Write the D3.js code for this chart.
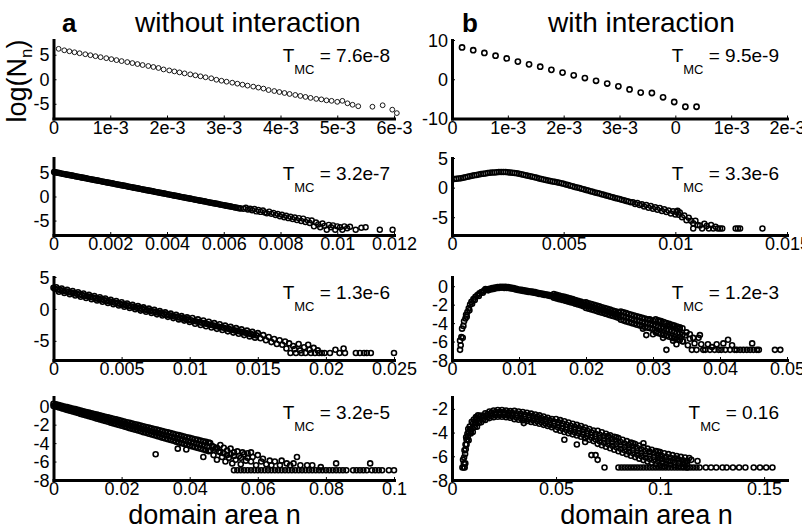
<!DOCTYPE html>
<html><head><meta charset="utf-8">
<script src="https://cdn.jsdelivr.net/npm/d3@7"></script>
<style>
body{margin:0;background:#fff}
svg text{font-family:"Liberation Sans",Arial,Helvetica,sans-serif;fill:#000;white-space:pre}
</style>
</head><body>
<svg id="c" width="802" height="527"></svg>
<script>
// x values of all point arrays are given in units of 1e-3 (domain area n)
const X_UNIT = 1e-3;

const titles = ["without interaction","with interaction"];
const panelLetters = ["a","b"];
const xAxisTitle = "domain area n";
const tmcValues = ["7.6e-8","9.5e-9","3.2e-7","3.3e-6","1.3e-6","1.2e-3","3.2e-5","0.16"];

// tick values / labels
const xTicksA1 = [0,1e-3,2e-3,3e-3,4e-3,5e-3,6e-3];
const xLabelsA1 = ["0","1e-3","2e-3","3e-3","4e-3","5e-3","6e-3"];
const xTicksA2 = [0,1e-3,2e-3,3e-3,4e-3,5e-3,6e-3];
const xLabelsA2 = ["0","1e-3","2e-3","3e-3","0","1e-3","2e-3"];
const xTicksB1 = [0,0.002,0.004,0.006,0.008,0.01,0.012];
const xLabelsB1 = ["0","0.002","0.004","0.006","0.008","0.01","0.012"];
const xTicksB2 = [0,0.005,0.01,0.015];
const xLabelsB2 = ["0","0.005","0.01","0.015"];
const xTicksB3 = [0,0.005,0.01,0.015,0.02,0.025];
const xLabelsB3 = ["0","0.005","0.01","0.015","0.02","0.025"];
const xTicksB4 = [0,0.01,0.02,0.03,0.04,0.05];
const xLabelsB4 = ["0","0.01","0.02","0.03","0.04","0.05"];
const xTicksB5 = [0,0.02,0.04,0.06,0.08,0.1];
const xLabelsB5 = ["0","0.02","0.04","0.06","0.08","0.1"];
const xTicksB6 = [0,0.05,0.1,0.15];
const xLabelsB6 = ["0","0.05","0.1","0.15"];
const yTicks5 = [-5,0,5];
const yTicks10 = [-10,0,10];
const yTicks8a = [-8,-6,-4,-2,0];
const yTicks8b = [-8,-6,-4,-2];

// ---- data: [n (x1e-3), log(Nn)] ----
const dataA1 = [[0.09,6.2],[0.19,5.9],[0.28,5.7],[0.37,5.5],[0.46,5.3],[0.56,5.1],[0.65,4.9],[0.74,4.7],[0.83,4.5],[0.93,4.3],
[1.02,4.1],[1.11,3.9],[1.20,3.7],[1.30,3.5],[1.39,3.3],[1.48,3.1],[1.57,2.9],[1.67,2.7],[1.76,2.5],[1.85,2.3],
[1.94,2.0],[2.04,1.8],[2.13,1.6],[2.22,1.4],[2.31,1.2],[2.41,1.0],[2.50,0.8],[2.59,0.6],[2.68,0.4],[2.78,0.2],
[2.87,-0.1],[2.96,-0.3],[3.05,-0.5],[3.15,-0.7],[3.24,-0.9],[3.33,-1.1],[3.42,-1.3],[3.52,-1.5],[3.61,-1.7],[3.70,-1.9],
[3.79,-2.2],[3.89,-2.4],[3.98,-2.6],[4.07,-2.8],[4.16,-3.0],[4.26,-3.2],[4.35,-3.4],[4.44,-3.6],[4.53,-3.8],[4.63,-4.0],
[4.72,-4.1],[4.81,-4.3],[4.90,-4.4],[5.00,-4.6],[5.09,-4.4],[5.18,-4.9],[5.27,-5.2],[5.37,-5.5],
[5.62,-5.6],[5.80,-5.3],[5.97,-6.2],[6.05,-6.9]];

const dataA2 = [[0.18,8.1],[0.38,7.4],[0.58,6.7],[0.78,6.0],[0.98,5.3],[1.18,4.5],[1.38,3.8],[1.58,3.2],[1.78,2.4],[1.98,1.7],
[2.18,1.0],[2.38,0.3],[2.58,-0.4],[2.78,-1.1],[2.98,-1.8],[3.18,-2.6],[3.38,-3.4],[3.58,-3.5],[3.78,-4.6],[3.98,-5.8],[4.18,-7.0],[4.38,-7.0]];

const dataB1 = [[0.02,5.1],[0.1,4.99],[0.2,4.87],[0.3,4.76],[0.4,4.64],[0.5,4.53],[0.6,4.41],[0.7,4.30],[0.8,4.18],[0.9,4.07],[1.0,3.95],
[1.1,3.84],[1.2,3.72],[1.3,3.61],[1.4,3.49],[1.5,3.38],[1.6,3.26],[1.7,3.15],[1.8,3.03],[1.9,2.92],[2.0,2.80],
[2.1,2.69],[2.2,2.57],[2.3,2.46],[2.4,2.34],[2.5,2.23],[2.6,2.11],[2.7,2.00],[2.8,1.88],[2.9,1.77],[3.0,1.65],
[3.1,1.54],[3.2,1.42],[3.3,1.31],[3.4,1.19],[3.5,1.08],[3.6,0.96],[3.7,0.85],[3.8,0.73],[3.9,0.62],[4.0,0.50],
[4.1,0.39],[4.2,0.27],[4.3,0.16],[4.4,0.04],[4.5,-0.08],[4.6,-0.19],[4.7,-0.31],[4.8,-0.42],[4.9,-0.54],[5.0,-0.65],
[5.1,-0.77],[5.2,-0.88],[5.3,-1.00],[5.4,-1.11],[5.5,-1.23],[5.6,-1.34],[5.7,-1.46],[5.8,-1.57],[5.9,-1.69],[6.0,-1.80],
[6.1,-1.92],[6.2,-2.03],[6.3,-2.15],[6.4,-2.26],[6.5,-2.38],[6.6,-2.49],
[0.05,5.04],[0.15,4.93],[0.25,4.81],[0.35,4.70],[0.45,4.58],[0.55,4.47],[0.65,4.35],[0.75,4.24],[0.85,4.12],[0.95,4.01],
[1.05,3.89],[1.15,3.78],[1.25,3.66],[1.35,3.55],[1.45,3.43],[1.55,3.32],[1.65,3.20],[1.75,3.09],[1.85,2.97],[1.95,2.86],
[2.05,2.74],[2.15,2.63],[2.25,2.51],[2.35,2.40],[2.45,2.28],[2.55,2.17],[2.65,2.05],[2.75,1.94],[2.85,1.82],[2.95,1.71],
[3.05,1.59],[3.15,1.48],[3.25,1.36],[3.35,1.25],[3.45,1.13],[3.55,1.02],[3.65,0.90],[3.75,0.79],[3.85,0.67],[3.95,0.56],
[4.05,0.44],[4.15,0.33],[4.25,0.21],[4.35,0.10],[4.45,-0.02],[4.55,-0.13],[4.65,-0.25],[4.75,-0.36],[4.85,-0.48],[4.95,-0.59],
[5.05,-0.71],[5.15,-0.82],[5.25,-0.94],[5.35,-1.05],[5.45,-1.17],[5.55,-1.28],[5.65,-1.40],[5.75,-1.51],[5.85,-1.63],[5.95,-1.74],
[6.05,-1.86],[6.15,-1.97],[6.25,-2.09],[6.35,-2.20],[6.45,-2.32],[6.55,-2.43],
[6.70,-2.55],[6.78,-2.35],[6.85,-2.70],[6.93,-2.55],[7.00,-2.85],[7.08,-2.60],[7.15,-3.10],[7.22,-2.80],[7.30,-3.20],[7.38,-2.90],
[7.45,-3.30],[7.52,-3.50],[7.60,-3.15],[7.68,-3.60],[7.75,-3.40],[7.83,-3.85],[7.90,-3.60],[7.98,-4.10],[8.05,-3.80],[8.13,-4.30],
[8.20,-4.00],[8.28,-4.50],[8.35,-4.20],[8.43,-4.70],[8.50,-4.35],[8.58,-4.90],[8.65,-4.50],[8.73,-5.10],[8.80,-4.60],[8.88,-5.30],
[8.95,-4.90],[9.03,-5.50],[9.10,-5.00],[9.18,-6.20],[9.25,-5.40],[9.33,-5.80],[9.40,-6.40],[9.48,-5.60],[9.55,-6.10],[9.63,-6.90],
[9.70,-5.90],[9.78,-6.40],[9.85,-6.00],[9.93,-6.90],[10.00,-6.20],[10.10,-6.40],[10.18,-6.90],[10.25,-6.20],[10.35,-6.60],[10.45,-6.30],
[10.65,-6.9],[10.85,-6.5],[11.0,-6.4],[11.5,-6.9],[11.95,-6.9]];

const dataB2 = [[0.1,1.45],[0.2,1.50],[0.3,1.55],[0.4,1.60],[0.5,1.68],[0.6,1.76],[0.7,1.84],[0.8,1.92],[0.9,2.00],[1.0,2.07],
[1.1,2.14],[1.2,2.21],[1.3,2.28],[1.4,2.34],[1.5,2.40],[1.6,2.45],[1.7,2.50],[1.8,2.54],[1.9,2.57],[2.0,2.60],
[2.1,2.62],[2.2,2.63],[2.3,2.63],[2.4,2.62],[2.5,2.60],[2.6,2.57],[2.7,2.53],[2.8,2.48],[2.9,2.42],[3.0,2.35],
[3.1,2.27],[3.2,2.19],[3.3,2.10],[3.4,2.01],[3.5,1.92],[3.6,1.83],[3.7,1.74],[3.8,1.65],[3.9,1.55],[4.0,1.45],
[4.1,1.37],[4.2,1.29],[4.3,1.21],[4.4,1.13],[4.5,1.05],[4.6,0.97],[4.7,0.89],[4.8,0.81],[4.9,0.72],[5.0,0.64],
[5.1,0.54],[5.2,0.43],[5.3,0.33],[5.4,0.23],[5.5,0.12],[5.6,0.02],[5.7,-0.08],[5.8,-0.19],[5.9,-0.29],[6.0,-0.39],
[6.1,-0.50],[6.2,-0.60],[6.3,-0.70],[6.4,-0.81],[6.5,-0.91],[6.6,-1.01],[6.7,-1.12],[6.8,-1.22],[6.9,-1.32],[7.0,-1.43],
[7.1,-1.53],[7.2,-1.63],[7.3,-1.74],[7.4,-1.84],[7.5,-1.94],[7.6,-2.05],[7.7,-2.15],[7.8,-2.25],[7.9,-2.36],[8.0,-2.46],
[8.1,-2.45],[8.2,-2.75],[8.3,-2.60],[8.4,-2.95],[8.5,-2.80],[8.6,-3.20],[8.7,-2.95],[8.8,-3.40],[8.9,-3.10],[9.0,-3.55],
[9.1,-3.30],[9.2,-3.75],[9.3,-3.45],[9.4,-3.95],[9.5,-3.65],[9.6,-4.10],[9.7,-3.85],[9.8,-4.35],[9.9,-4.00],[10.0,-4.55],
[10.05,-4.10],[10.1,-3.90],[10.15,-4.60],[10.2,-4.20],[10.3,-5.00],[10.4,-4.70],[10.5,-5.50],[10.6,-5.10],[10.7,-5.60],[10.8,-6.00],
[10.9,-5.60],[11.0,-6.30],[10.8,-6.90],[11.1,-6.40],[11.2,-6.90],[11.3,-6.10],[11.4,-6.50],[11.5,-6.90],[11.6,-6.30],[11.7,-6.90],
[11.8,-6.60],[11.9,-6.90],[12.0,-6.90],[12.1,-6.90],[12.7,-6.90],[12.8,-6.90],[12.9,-6.90],[13.9,-6.90]];

const dataB3 = [[0.0,3.30],[0.2,3.40],[0.4,2.70],[0.6,3.20],[0.8,2.51],[1.0,3.01],[1.2,2.31],[1.4,2.81],[1.6,2.11],[1.8,2.61],[2.0,1.91],
[2.2,2.42],[2.4,1.72],[2.6,2.22],[2.8,1.52],[3.0,2.02],[3.2,1.32],[3.4,1.82],[3.6,1.13],[3.8,1.63],[4.0,0.93],
[4.2,1.43],[4.4,0.73],[4.6,1.23],[4.8,0.53],[5.0,1.04],[5.2,0.34],[5.4,0.84],[5.6,0.14],[5.8,0.64],[6.0,-0.06],
[6.2,0.44],[6.4,-0.26],[6.6,0.25],[6.8,-0.45],[7.0,0.05],[7.2,-0.65],[7.4,-0.15],[7.6,-0.85],[7.8,-0.35],[8.0,-1.04],
[8.2,-0.54],[8.4,-1.24],[8.6,-0.74],[8.8,-1.44],[9.0,-0.94],[9.2,-1.64],[9.4,-1.13],[9.6,-1.83],[9.8,-1.33],[10.0,-2.03],
[10.2,-1.43],[10.4,-2.33],[10.6,-1.63],[10.8,-2.52],[11.0,-1.82],[11.2,-2.72],[11.4,-2.02],[11.6,-2.92],[11.8,-2.22],[12.0,-3.12],
[12.2,-2.41],[12.4,-3.31],[12.6,-2.61],[12.8,-3.51],[13.0,-2.81],[13.2,-3.71],[13.4,-3.01],[13.6,-3.90],[13.8,-3.20],[14.0,-4.10],
[14.2,-3.40],[14.4,-4.30],[14.6,-3.60],[14.8,-4.50],[15.0,-3.79],
[0.1,3.15],[0.3,3.05],[0.5,2.95],[0.7,2.85],[0.9,2.76],[1.1,2.66],[1.3,2.56],[1.5,2.46],[1.7,2.36],[1.9,2.26],
[2.1,2.16],[2.3,2.07],[2.5,1.97],[2.7,1.87],[2.9,1.77],[3.1,1.67],[3.3,1.57],[3.5,1.47],[3.7,1.38],[3.9,1.28],
[4.1,1.18],[4.3,1.08],[4.5,0.98],[4.7,0.88],[4.9,0.78],[5.1,0.69],[5.3,0.59],[5.5,0.49],[5.7,0.39],[5.9,0.29],
[6.1,0.19],[6.3,0.09],[6.5,0.00],[6.7,-0.10],[6.9,-0.20],[7.1,-0.30],[7.3,-0.40],[7.5,-0.50],[7.7,-0.60],[7.9,-0.69],
[8.1,-0.79],[8.3,-0.89],[8.5,-0.99],[8.7,-1.09],[8.9,-1.19],[9.1,-1.29],[9.3,-1.38],[9.5,-1.48],[9.7,-1.58],[9.9,-1.68],
[10.1,-1.78],[10.3,-1.88],[10.5,-1.98],[10.7,-2.08],[10.9,-2.17],[11.1,-2.27],[11.3,-2.37],[11.5,-2.47],[11.7,-2.57],[11.9,-2.67],
[12.1,-2.77],[12.3,-2.86],[12.5,-2.96],[12.7,-3.06],[12.9,-3.16],[13.1,-3.26],[13.3,-3.36],[13.5,-3.46],[13.7,-3.55],[13.9,-3.65],
[14.1,-3.75],[14.3,-3.85],[14.5,-3.95],[14.7,-4.05],[14.9,-4.15],
[15.2,-4.6],[15.4,-4.1],[15.6,-4.9],[15.8,-4.4],[16.0,-5.2],[16.2,-4.7],[16.4,-5.5],[16.6,-4.9],[16.8,-5.6],[17.0,-5.1],
[17.1,-6.2],[17.3,-5.4],[17.4,-6.9],[17.6,-5.8],[17.7,-6.3],[17.8,-6.9],[18.0,-5.5],[18.1,-6.5],[18.2,-6.9],[18.4,-6.0],
[18.5,-6.9],[18.7,-5.6],[18.8,-6.4],[18.9,-6.9],[19.1,-6.1],[19.2,-6.9],[19.4,-6.5],[19.5,-6.9],[19.7,-6.9],[19.9,-6.9],
[20.3,-6.9],[20.7,-6.4],[21.0,-6.9],[21.3,-6.2],[21.4,-6.9],[22.2,-6.9],[22.5,-6.9],[22.8,-6.9],[23.0,-6.9],[23.3,-6.9],[25.0,-6.9]];

const dataB4 = [[1.2,-6.9],[1.3,-6.4],[1.2,-5.9],[1.4,-5.5],[1.6,-5.6],[1.5,-4.6],[1.7,-4.3],[1.8,-3.8],[2.0,-3.5],[2.1,-3.1],
[2.3,-2.8],[2.5,-2.4],[2.7,-2.0],[2.9,-1.7],[3.2,-1.4],[3.5,-1.15],[3.8,-0.95],[4.1,-0.78],[4.4,-0.62],[4.8,-0.48],
[5.2,-0.36],[5.6,-0.27],[6.0,-0.2],[6.4,-0.14],[6.8,-0.1],[7.2,-0.07],[7.6,-0.06],[8.0,-0.07],[8.4,-0.1],
[2.2,-3.3],[2.6,-2.6],[3.0,-1.9],[3.4,-1.5],[4.0,-1.05],[4.6,-0.7],[5.4,-0.45],[6.2,-0.3],[7.0,-0.2],
[5.0,-0.3],[5.8,-0.35],[6.6,-0.22],[7.4,-0.15],[7.8,-0.18],[8.2,-0.2],[8.6,-0.22],
[8.8,-0.15],[9.2,-0.2],[9.6,-0.28],[10.0,-0.35],[10.4,-0.4],[10.8,-0.45],[11.2,-0.5],[11.6,-0.54],[12.0,-0.59],[12.4,-0.64],
[12.8,-0.7],[13.2,-0.76],[13.6,-0.81],[14.0,-0.87],[14.4,-0.92],[14.8,-0.98],[15.2,-1.04],[15.6,-1.12],[16.0,-1.2],[16.4,-1.28],
[16.8,-1.36],[17.2,-1.44],[17.6,-1.52],[18.0,-1.6],[18.4,-1.69],[18.8,-1.78],[19.2,-1.87],[19.6,-1.96],[20.0,-2.05],[20.4,-2.14],
[20.8,-2.23],[21.2,-2.31],[21.6,-2.4],[22.0,-2.49],[22.4,-2.58],[22.8,-2.67],[23.2,-2.75],[23.6,-2.84],[24.0,-2.93],[24.4,-3.02],
[24.8,-3.11],[25.2,-3.19],[25.6,-3.28],[26.0,-3.37],[26.4,-3.46],[26.8,-3.55],[27.2,-3.63],[27.6,-3.72],[28.0,-3.8],[28.4,-3.88],
[28.8,-3.96],[29.2,-4.04],[29.6,-4.12],[30.0,-4.2],[30.4,-4.3],[30.8,-4.39],[31.2,-4.49],[31.6,-4.58],[32.0,-4.68],[32.4,-4.78],
[32.8,-4.87],[33.2,-4.97],[33.6,-5.06],[34.0,-5.16],[34.4,-5.26],[34.8,-5.35],
[9.0,-0.27],[9.4,-0.34],[9.8,-0.41],[10.2,-0.47],[10.6,-0.52],[11.0,-0.57],[11.4,-0.62],[11.8,-0.66],[12.2,-0.71],[12.6,-0.77],
[13.0,-0.83],[13.4,-0.88],[13.8,-0.94],[14.2,-0.99],[14.6,-1.05],[15.0,-1.11],
[15.2,-0.84],[16.0,-1.0],[16.8,-1.16],[17.6,-1.32],[18.4,-1.49],[19.2,-1.67],[20.0,-1.75],[20.8,-1.93],[21.6,-2.1],[22.4,-2.28],
[23.2,-2.45],[24.0,-2.63],[24.8,-2.81],[25.6,-2.83],[26.4,-3.01],[27.2,-3.18],[28.0,-3.35],[28.8,-3.51],[29.6,-3.67],[30.4,-3.6],
[31.2,-3.79],[32.0,-3.98],[32.8,-4.17],[33.6,-4.36],[34.4,-4.56],
[15.6,-0.92],[16.4,-1.08],[17.2,-1.24],[18.0,-1.4],[18.8,-1.58],[19.6,-1.76],[20.4,-1.84],[21.2,-2.01],[22.0,-2.19],[22.8,-2.37],
[23.6,-2.54],[24.4,-2.72],[25.2,-2.74],[26.0,-2.92],[26.8,-3.1],[27.6,-3.27],[28.4,-3.43],[29.2,-3.59],[30.0,-3.75],[30.8,-3.69],
[31.6,-3.88],[32.4,-4.08],[33.2,-4.27],[34.0,-4.46],
[15.2,-1.24],[16.0,-1.4],[16.8,-1.56],[17.6,-1.72],[18.4,-1.89],[19.2,-2.07],[20.0,-2.35],[20.8,-2.53],[21.6,-2.7],[22.4,-2.88],
[23.2,-3.05],[24.0,-3.23],[24.8,-3.41],[25.6,-3.73],[26.4,-3.91],[27.2,-4.08],[28.0,-4.25],[28.8,-4.41],[29.6,-4.57],[30.4,-5.0],
[31.2,-5.19],[32.0,-5.38],[32.8,-5.57],[33.6,-5.76],[34.4,-5.96],
[15.6,-1.32],[16.4,-1.48],[17.2,-1.64],[18.0,-1.8],[18.8,-1.98],[19.6,-2.16],[20.4,-2.44],[21.2,-2.61],[22.0,-2.79],[22.8,-2.97],
[23.6,-3.14],[24.4,-3.32],[25.2,-3.64],[26.0,-3.82],[26.8,-4.0],[27.6,-4.17],[28.4,-4.33],[29.2,-4.49],[30.0,-4.65],[30.8,-5.09],
[31.6,-5.28],[32.4,-5.48],[33.2,-5.67],[34.0,-5.86],
[28.5,-4.6],[29.5,-3.6],[30.5,-4.9],[31.5,-4.4],[33.0,-4.3],[34.0,-5.5],[35.5,-5.2],[36.0,-5.6],[37.0,-5.3],[29.0,-5.3],
[30.0,-5.2],[31.0,-3.8],[31.5,-5.6],[32.0,-6.9],[32.5,-4.2],[33.0,-5.9],[33.5,-6.3],[34.0,-4.6],[34.5,-6.0],[35.0,-5.0],
[35.2,-6.4],[35.5,-5.7],[35.8,-6.9],[36.2,-6.2],[36.5,-6.9],[36.8,-5.6],[37.2,-6.3],[37.5,-6.9],[37.8,-6.9],[38.2,-6.3],
[38.5,-6.9],[38.8,-6.6],[39.2,-6.9],[39.5,-6.3],[39.8,-6.9],[40.2,-6.9],[40.5,-6.2],[40.8,-6.9],[41.2,-5.8],[41.5,-6.9],
[41.8,-6.4],[42.2,-6.9],[42.5,-6.9],[43.0,-6.9],[43.5,-6.9],[44.0,-6.9],[44.5,-6.9],[44.8,-6.2],[45.0,-6.9],[45.5,-6.9],
[45.8,-6.9],[48.2,-6.9],[49.0,-6.9]];

const dataB5 = [[0,0.27],[0.8,-0.06],[1.6,0.12],[2.4,-0.23],[3.2,-0.03],[4.0,-0.40],[4.8,-0.17],[5.6,-0.57],[6.4,-0.32],[7.2,-0.74],
[8.0,-0.47],[8.8,-0.92],[9.6,-0.62],[10.4,-1.09],[11.2,-0.77],[12.0,-1.26],[12.8,-0.91],[13.6,-1.43],[14.4,-1.06],[15.2,-1.60],
[16.0,-1.21],[16.8,-1.78],[17.6,-1.36],[18.4,-1.95],[19.2,-1.51],[20.0,-2.12],[20.8,-1.65],[21.6,-2.29],[22.4,-1.80],[23.2,-2.46],
[24.0,-1.95],[24.8,-2.64],[25.6,-2.10],[26.4,-2.81],[27.2,-2.25],[28.0,-2.98],[28.8,-2.39],[29.6,-3.15],[30.4,-2.54],[31.2,-3.32],
[32.0,-2.69],[32.8,-3.50],[33.6,-2.84],[34.4,-3.67],[35.2,-2.99],[36.0,-3.84],[36.8,-3.13],[37.6,-4.01],[38.4,-3.28],[39.2,-4.18],
[40.0,-3.43],[40.8,-4.36],[41.6,-3.58],[42.4,-4.53],[43.2,-3.73],[44.0,-4.70],[44.8,-3.87],[45.6,-4.87],
[0,0.03],[0.8,0.20],[1.6,-0.14],[2.4,0.05],[3.2,-0.31],[4.0,-0.10],[4.8,-0.49],[5.6,-0.25],[6.4,-0.66],[7.2,-0.40],
[8.0,-0.83],[8.8,-0.54],[9.6,-1.00],[10.4,-0.69],[11.2,-1.17],[12.0,-0.84],[12.8,-1.35],[13.6,-0.99],[14.4,-1.52],[15.2,-1.14],
[16.0,-1.69],[16.8,-1.28],[17.6,-1.86],[18.4,-1.43],[19.2,-2.03],[20.0,-1.58],[20.8,-2.21],[21.6,-1.73],[22.4,-2.38],[23.2,-1.88],
[24.0,-2.55],[24.8,-2.02],[25.6,-2.72],[26.4,-2.17],[27.2,-2.89],[28.0,-2.32],[28.8,-3.07],[29.6,-2.47],[30.4,-3.24],[31.2,-2.62],
[32.0,-3.41],[32.8,-2.76],[33.6,-3.58],[34.4,-2.91],[35.2,-3.75],[36.0,-3.06],[36.8,-3.93],[37.6,-3.21],[38.4,-4.10],[39.2,-3.36],
[40.0,-4.27],[40.8,-3.50],[41.6,-4.44],[42.4,-3.65],[43.2,-4.61],[44.0,-3.80],[44.8,-4.79],[45.6,-3.95],
[0.4,0.11],[1.2,0.03],[2.0,-0.05],[2.8,-0.13],[3.6,-0.21],[4.4,-0.29],[5.2,-0.37],[6.0,-0.45],[6.8,-0.53],[7.6,-0.61],
[8.4,-0.69],[9.2,-0.77],[10.0,-0.85],[10.8,-0.93],[11.6,-1.01],[12.4,-1.09],[13.2,-1.17],[14.0,-1.25],[14.8,-1.33],[15.6,-1.41],
[16.4,-1.49],[17.2,-1.57],[18.0,-1.65],[18.8,-1.73],[19.6,-1.81],[20.4,-1.89],[21.2,-1.97],[22.0,-2.05],[22.8,-2.13],[23.6,-2.21],
[24.4,-2.29],[25.2,-2.37],[26.0,-2.45],[26.8,-2.53],[27.6,-2.61],[28.4,-2.69],[29.2,-2.77],[30.0,-2.85],[30.8,-2.93],[31.6,-3.01],
[32.4,-3.09],[33.2,-3.17],[34.0,-3.25],[34.8,-3.33],[35.6,-3.41],[36.4,-3.49],[37.2,-3.57],[38.0,-3.65],[38.8,-3.73],[39.6,-3.81],
[40.4,-3.89],[41.2,-3.97],[42.0,-4.05],[42.8,-4.13],[43.6,-4.21],[44.4,-4.29],[45.2,-4.37],
[30.0,-5.2],[36.5,-4.6],[39.0,-4.7],[44.0,-5.5],
[46,-4.0],[46,-4.8],[47,-4.4],[48,-4.5],[49,-5.0],[50,-4.5],[51,-5.3],[52,-4.6],[53,-5.4],[54,-4.9],[55,-5.6],[56,-5.2],[57,-5.6],[58,-5.0],
[46.5,-4.3],[47.0,-5.3],[47.5,-4.6],[48.0,-5.8],[48.5,-4.9],[49.0,-4.2],[49.5,-5.5],[50.0,-5.1],[50.5,-6.0],[51.0,-4.8],
[51.5,-5.6],[52.0,-5.2],[52.5,-6.2],[53.0,-5.0],[53.5,-5.8],[54.5,-5.4],[55.0,-6.3],[55.5,-5.0],[56.5,-5.9],[57.0,-5.1],
[58.0,-6.0],[58.5,-5.5],[59.5,-6.4],[60.0,-5.3],[61.0,-6.0],[61.5,-5.7],[62.5,-6.3],[63.5,-5.9],[64.0,-6.4],[65.0,-6.0],
[66.5,-6.4],[67.0,-5.9],[68.5,-6.2],[69.5,-6.4],[70.5,-6.2],[71.5,-5.5],[72.5,-6.4],[74.5,-6.4],[76.0,-6.4],[78.5,-6.6],
[83.0,-6.2],[93.0,-6.2],
[53,-6.95],[54,-6.95],[55,-6.95],[56,-6.95],[57,-6.95],[58,-6.95],[59,-6.95],[60,-6.95],[61,-6.95],[62,-6.95],
[63,-6.95],[64,-6.95],[65,-6.95],[66,-6.95],[67,-6.95],[68,-6.95],[69,-6.95],[70,-6.95],[71,-6.95],[72,-6.95],
[73,-6.95],[74,-6.95],[75,-6.95],[76,-6.95],[77,-6.95],[78,-6.95],[79,-6.95],[80,-6.95],[81,-6.95],[82,-6.95],
[83,-6.95],[84,-6.95],[85,-6.95],[86,-6.95],[88,-6.95],[89,-6.95],[90,-6.95],[91,-6.95],[92,-6.95],[93.5,-6.95],
[94.5,-6.95],[95.5,-6.95],[96.5,-6.95],[98.5,-6.95],[100,-6.95]];

const dataB6 = [[5.0,-6.95],[5.6,-6.95],[6.1,-6.95],[5.3,-6.3],[5.8,-6.1],[6.3,-5.8],[6.6,-5.4],[7.0,-5.0],[7.3,-4.6],[6.8,-4.4],[7.6,-4.3],
[6.5,-5.0],[7.0,-4.6],[7.4,-4.1],[7.8,-3.7],[8.5,-3.5],[9.5,-3.1],[10.5,-2.9],[11.5,-2.7],[12.5,-2.55],[6.0,-5.5],[5.7,-6.6],[6.4,-6.6],
[8,-3.95],[10,-3.25],[12,-2.8],[14,-2.57],[16,-2.37],[18,-2.22],[20,-2.14],[22,-2.1],[24,-2.1],[26,-2.14],
[28,-2.19],[30,-2.17],[32,-2.22],[34,-2.27],[36,-2.33],[38,-2.4],[40,-2.47],[42,-2.55],[44,-2.65],[46,-2.75],
[48,-2.85],[50,-2.85],[52,-2.95],[54,-3.05],[56,-3.15],[58,-3.25],[60,-3.35],[62,-3.45],[64,-3.57],[66,-3.7],
[68,-3.82],[70,-3.85],[72,-3.97],[74,-4.1],[76,-4.22],[78,-4.35],[80,-4.47],[82,-4.6],[84,-4.72],[86,-4.85],
[88,-4.97],[90,-5.1],[92,-5.22],[94,-5.35],[96,-5.45],[98,-5.55],[100,-5.65],[102,-5.75],[104,-5.82],[106,-5.9],
[108,-5.97],[110,-6.05],[112,-6.1],[114,-6.15],
[8,-4.65],[10,-3.95],[12,-3.5],[14,-3.13],[16,-2.93],[18,-2.78],[20,-2.7],[22,-2.66],[24,-2.66],[26,-2.7],
[28,-2.75],[30,-2.87],[32,-2.92],[34,-2.97],[36,-3.03],[38,-3.1],[40,-3.17],[42,-3.25],[44,-3.35],[46,-3.45],
[48,-3.55],[50,-3.75],[52,-3.85],[54,-3.95],[56,-4.05],[58,-4.15],[60,-4.25],[62,-4.35],[64,-4.47],[66,-4.6],
[68,-4.72],[70,-4.95],[72,-5.07],[74,-5.2],[76,-5.32],[78,-5.45],[80,-5.57],[82,-5.7],[84,-5.82],[86,-5.95],
[88,-6.07],[90,-6.2],[92,-6.32],[94,-6.45],[96,-6.55],[98,-6.65],[100,-6.75],[102,-6.85],
[9,-3.9],[11,-3.35],[13,-3.0],[15,-2.75],[17,-2.57],[19,-2.46],[21,-2.4],[23,-2.38],[25,-2.4],[27,-2.45],
[29,-2.5],[31,-2.55],[33,-2.6],[35,-2.65],[37,-2.72],[39,-2.78],[41,-2.86],[43,-2.95],[45,-3.05],[47,-3.15],
[49,-3.25],[51,-3.35],[53,-3.45],[55,-3.55],[57,-3.65],[59,-3.75],[61,-3.85],[63,-3.96],[65,-4.08],[67,-4.21],
[69,-4.33],[71,-4.46],[73,-4.58],[75,-4.71],[77,-4.83],[79,-4.96],[81,-5.08],[83,-5.21],[85,-5.33],[87,-5.46],
[89,-5.58],[91,-5.71],[93,-5.83],[95,-5.95],[97,-6.05],[99,-6.15],[101,-6.25],[103,-6.33],[105,-6.41],[107,-6.48],
[109,-6.56],[111,-6.62],[113,-6.67],
[9,-3.72],[11,-3.17],[13,-2.82],[15,-2.61],[17,-2.43],[19,-2.32],[21,-2.26],[23,-2.24],[25,-2.26],[27,-2.31],
[29,-2.36],[31,-2.37],[33,-2.42],[35,-2.47],[37,-2.54],[39,-2.60],[41,-2.68],[43,-2.77],[45,-2.87],[47,-2.97],
[49,-3.07],[51,-3.12],[53,-3.22],[55,-3.32],[57,-3.42],[59,-3.52],[61,-3.62],[63,-3.73],[65,-3.85],[67,-3.98],
[69,-4.10],[71,-4.18],[73,-4.30],[75,-4.43],[77,-4.55],[79,-4.68],[81,-4.80],[83,-4.93],[85,-5.05],[87,-5.18],
[89,-5.30],[91,-5.43],[93,-5.55],[95,-5.67],[97,-5.77],[99,-5.87],[101,-5.97],[103,-6.05],[105,-6.13],[107,-6.20],
[109,-6.28],[111,-6.34],[113,-6.39],
[9,-4.08],[11,-3.53],[13,-3.18],[15,-2.89],[17,-2.71],[19,-2.60],[21,-2.54],[23,-2.52],[25,-2.54],[27,-2.59],
[29,-2.64],[31,-2.73],[33,-2.78],[35,-2.83],[37,-2.90],[39,-2.96],[41,-3.04],[43,-3.13],[45,-3.23],[47,-3.33],
[49,-3.43],[51,-3.58],[53,-3.68],[55,-3.78],[57,-3.88],[59,-3.98],[61,-4.08],[63,-4.19],[65,-4.31],[67,-4.44],
[69,-4.56],[71,-4.74],[73,-4.86],[75,-4.99],[77,-5.11],[79,-5.24],[81,-5.36],[83,-5.49],[85,-5.61],[87,-5.74],
[89,-5.86],[91,-5.99],[93,-6.11],[95,-6.23],[97,-6.33],[99,-6.43],[101,-6.53],[103,-6.61],[105,-6.69],[107,-6.76],
[109,-6.84],[111,-6.90],[113,-6.95],
[34.5,-3.2],[54,-4.6],[60,-5.0],[64,-4.8],[67,-5.9],[69,-5.9],[70,-6.3],[73.3,-6.95],[75,-4.3],[79,-4.4],
[87,-4.9],[92,-4.9],[95,-5.6],[99,-5.6],[115,-6.3],[100,-6.2],[104,-6.4],[108,-6.2],[112,-6.5],[118,-6.4],
[80,-6.95],[81.5,-6.95],[83,-6.95],[84.5,-6.95],[86,-6.95],[87.5,-6.95],[89,-6.95],[90.5,-6.95],[92,-6.95],[93.5,-6.95],
[95,-6.95],[96.5,-6.95],[98,-6.95],[99.5,-6.95],[101,-6.95],[102.5,-6.95],[104,-6.95],[105.5,-6.95],[107,-6.95],[108.5,-6.95],
[110,-6.95],[111.5,-6.95],[113,-6.95],[114.5,-6.95],[116,-6.95],[117.5,-6.95],[119,-6.95],[122,-6.95],[124.5,-6.95],[127,-6.95],
[130,-6.95],[132,-6.95],[135,-6.95],[138,-6.95],[141,-6.95],[145,-6.95],[148,-6.95],[151,-6.95],[154,-6.95]];

// ---- layout ----
const W = 802, H = 527;
const colX = [[53.5,394],[452,787]];
const rowY = [[40,118.5],[158,235],[277,360],[397,480]];
const tmcRight = [390,779];

const panels = [
 {col:0,row:0,data:dataA1,xDomain:[0,6e-3],xTicks:xTicksA1,xLabels:xLabelsA1,yDomain:[-8,8],yTicks:yTicks5,tmc:tmcValues[0],r:2.4,sw:0.9},
 {col:1,row:0,data:dataA2,xDomain:[0,6e-3],xTicks:xTicksA2,xLabels:xLabelsA2,yDomain:[-10,10],yTicks:yTicks10,tmc:tmcValues[1],r:2.6,sw:1.6},
 {col:0,row:1,data:dataB1,xDomain:[0,0.012],xTicks:xTicksB1,xLabels:xLabelsB1,yDomain:[-8,8],yTicks:yTicks5,tmc:tmcValues[2],r:2.5,sw:1.4},
 {col:1,row:1,data:dataB2,xDomain:[0,0.015],xTicks:xTicksB2,xLabels:xLabelsB2,yDomain:[-8,5],yTicks:yTicks5,tmc:tmcValues[3],r:2.5,sw:1.5},
 {col:0,row:2,data:dataB3,xDomain:[0,0.025],xTicks:xTicksB3,xLabels:xLabelsB3,yDomain:[-8,5],yTicks:yTicks5,tmc:tmcValues[4],r:2.5,sw:1.6},
 {col:1,row:2,data:dataB4,xDomain:[0,0.05],xTicks:xTicksB4,xLabels:xLabelsB4,yDomain:[-8,1],yTicks:yTicks8a,tmc:tmcValues[5],r:2.5,sw:1.6},
 {col:0,row:3,data:dataB5,xDomain:[0,0.1],xTicks:xTicksB5,xLabels:xLabelsB5,yDomain:[-8,1],yTicks:yTicks8a,tmc:tmcValues[6],r:2.5,sw:1.6},
 {col:1,row:3,data:dataB6,xDomain:[0,0.161],xTicks:xTicksB6,xLabels:xLabelsB6,yDomain:[-8,-1],yTicks:yTicks8b,tmc:tmcValues[7],r:2.5,sw:1.6}
];

const svg = d3.select("#c");
svg.append("rect").attr("width",W).attr("height",H).attr("fill","#fff");

panels.forEach(p => {
  const [x0,x1] = colX[p.col];
  const [y0,y1] = rowY[p.row];
  const x = d3.scaleLinear().domain(p.xDomain).range([x0,x1]);
  const y = d3.scaleLinear().domain(p.yDomain).range([y1,y0]);
  const g = svg.append("g");

  g.append("g").selectAll("circle").data(p.data).join("circle")
    .attr("cx", d => x(d[0]*X_UNIT))
    .attr("cy", d => y(d[1]))
    .attr("r", p.r)
    .attr("fill","none").attr("stroke","#000").attr("stroke-width",p.sw);

  const xa = d3.axisBottom(x).tickValues(p.xTicks).tickFormat((d,i)=>p.xLabels[i])
    .tickSizeInner(-3).tickSizeOuter(0).tickPadding(2.5);
  const gx = g.append("g").attr("transform",`translate(0,${y1})`).call(xa);
  const ya = d3.axisLeft(y).tickValues(p.yTicks).tickFormat(d=>String(d))
    .tickSizeInner(-3).tickSizeOuter(0).tickPadding(4);
  const gy = g.append("g").attr("transform",`translate(${x0},0)`).call(ya);

  [gx,gy].forEach(a=>{
    a.attr("font-family",null).attr("font-size",null);
    a.select(".domain").attr("stroke","#000").attr("stroke-width",3).attr("stroke-linecap","square");
    a.selectAll(".tick line").attr("stroke","#000").attr("stroke-width",1);
    a.selectAll(".tick text").attr("font-size",18).attr("fill","#000");
  });
  gy.selectAll(".tick text").attr("dy","0.34em");

  const t = g.append("text").attr("x",tmcRight[p.col]).attr("y",y0+22)
    .attr("text-anchor","end").attr("font-size",19);
  t.append("tspan").text("T");
  t.append("tspan").attr("dy",12).attr("font-size",13).text("MC");
  t.append("tspan").attr("dy",-12).text(" = " + p.tmc);
});

// panel letters and titles
svg.append("text").attr("x",62).attr("y",32).attr("font-size",26).attr("font-weight","bold").text(panelLetters[0]);
svg.append("text").attr("x",135).attr("y",32).attr("font-size",28).text(titles[0]);
svg.append("text").attr("x",462).attr("y",32).attr("font-size",26).attr("font-weight","bold").text(panelLetters[1]);
svg.append("text").attr("x",548).attr("y",32).attr("font-size",28).text(titles[1]);

// y axis label
const yl = svg.append("text").attr("transform","translate(26,81) rotate(-90)")
  .attr("text-anchor","middle").attr("font-size",27);
yl.append("tspan").text("log(N");
yl.append("tspan").attr("dy",6).attr("font-size",17).text("n");
yl.append("tspan").attr("dy",-6).text(")");

// x axis titles
svg.append("text").attr("x",214.5).attr("y",524).attr("text-anchor","middle").attr("font-size",27).text(xAxisTitle);
svg.append("text").attr("x",646.5).attr("y",524).attr("text-anchor","middle").attr("font-size",27).text(xAxisTitle);
</script>
</body></html>
